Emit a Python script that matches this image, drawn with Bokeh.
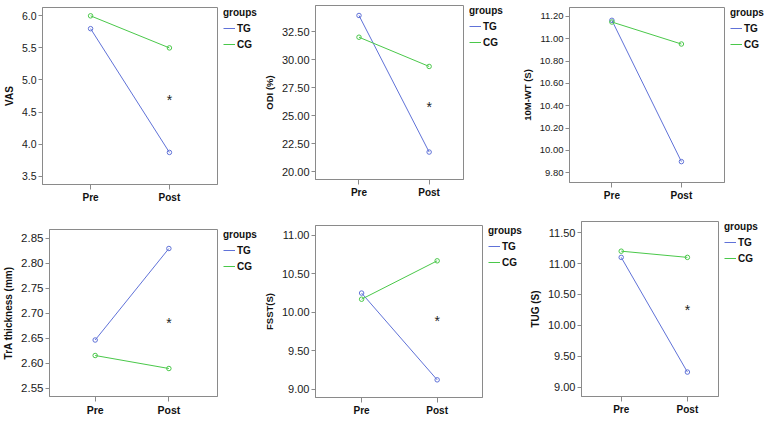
from bokeh.plotting import figure
from bokeh.models import Range1d, FixedTicker, Legend, LegendItem, NumeralTickFormatter
from bokeh.layouts import row, column
from bokeh.embed import file_html
from bokeh.resources import INLINE
from bokeh.core.properties import value

# ---- data ----
times = ["Pre", "Post"]
groups = ["TG", "CG"]

vas_tg = [5.80, 3.87]
vas_cg = [6.00, 5.50]
odi_tg = [33.97, 21.78]
odi_cg = [32.03, 29.42]
wt_tg = [11.165, 9.90]
wt_cg = [11.15, 10.953]
tra_tg = [2.646, 2.829]
tra_cg = [2.615, 2.589]
fsst_tg = [10.25, 9.12]
fsst_cg = [10.17, 10.67]
tug_tg = [11.10, 9.245]
tug_cg = [11.20, 11.10]

y_labels = ["VAS", "ODI (%)", "10M-WT (S)", "TrA thickness (mm)", "FSST(S)", "TUG (S)"]
star_y = [4.74, 26.1, None, 2.686, 9.92, 10.29]

vas_ticks = [3.5, 4.0, 4.5, 5.0, 5.5, 6.0]
odi_ticks = [20.0, 22.5, 25.0, 27.5, 30.0, 32.5]
wt_ticks = [9.8, 10.0, 10.2, 10.4, 10.6, 10.8, 11.0, 11.2]
tra_ticks = [2.55, 2.60, 2.65, 2.70, 2.75, 2.80, 2.85]
fsst_ticks = [9.0, 9.5, 10.0, 10.5, 11.0]
tug_ticks = [9.0, 9.5, 10.0, 10.5, 11.0, 11.5]

TG_COLOR = "#6072d8"
CG_COLOR = "#4ac84a"
FRAME = "#8a8a8a"
FONT = "Liberation Sans"

panels = [
    dict(tg=vas_tg, cg=vas_cg, ticks=vas_ticks, fmt="0.0", w=260, h=212, l=41, r=43, t=3, b=28,
         xr=(-0.61, 1.61), yr=(3.37, 6.13), tick_fs="10.5px", lab_fs="10px", x_fs="10px"),
    dict(tg=odi_tg, cg=odi_cg, ticks=odi_ticks, fmt="0.00", w=250, h=212, l=46, r=47, t=1, b=33,
         xr=(-0.62, 1.49), yr=(19.33, 34.86), tick_fs="11px", lab_fs="9.5px", x_fs="10px"),
    dict(tg=wt_tg, cg=wt_cg, ticks=wt_ticks, fmt="0.00", w=258, h=212, l=59, r=44, t=3, b=30,
         xr=(-0.61, 1.62), yr=(9.713, 11.28), tick_fs="9.5px", lab_fs="9.5px", x_fs="10px"),
    dict(tg=tra_tg, cg=tra_cg, ticks=tra_ticks, fmt="0.00", w=260, h=206, l=41, r=43, t=13, b=18,
         xr=(-0.62, 1.66), yr=(2.533, 2.867), tick_fs="11.5px", lab_fs="10px", x_fs="10.5px"),
    dict(tg=fsst_tg, cg=fsst_cg, ticks=fsst_ticks, fmt="0.00", w=266, h=206, l=48, r=44, t=10, b=17,
         xr=(-0.61, 1.60), yr=(8.89, 11.13), tick_fs="11px", lab_fs="9.5px", x_fs="10px"),
    dict(tg=tug_tg, cg=tug_cg, ticks=tug_ticks, fmt="0.00", w=242, h=206, l=46, r=50, t=6, b=22,
         xr=(-0.60, 1.47), yr=(8.85, 11.68), tick_fs="11px", lab_fs="10px", x_fs="10px"),
]

xs = list(range(len(times)))
GAP = 2  # border right of the frame inside the plot figure


def make_legend_fig(width, height, top, tg, cg):
    # a narrow figure that only carries the legend; its ranges keep the lines out of view
    lf = figure(width=width, height=height, output_backend="svg", toolbar_location=None,
                x_axis_type=None, y_axis_type=None,
                x_range=Range1d(0, 1), y_range=Range1d(-2, -1),
                min_border_left=4, min_border_right=0, min_border_top=top, min_border_bottom=0)
    lf.grid.visible = False
    lf.outline_line_color = None
    lf.background_fill_color = "white"
    lf.border_fill_color = "white"
    r_tg = lf.line(xs, tg, line_color=TG_COLOR, line_width=1)
    r_cg = lf.line(xs, cg, line_color=CG_COLOR, line_width=1)
    legend = Legend(items=[LegendItem(label=groups[0], renderers=[r_tg]),
                           LegendItem(label=groups[1], renderers=[r_cg])],
                    title="groups", location="top_left")
    legend.margin = 0
    legend.padding = 0
    legend.border_line_color = None
    legend.background_fill_alpha = 0
    legend.title_text_font = FONT
    legend.title_text_font_style = "bold"
    legend.title_text_font_size = "10px"
    legend.title_text_color = "#111111"
    legend.title_standoff = 3
    legend.label_text_font = FONT
    legend.label_text_font_style = "bold"
    legend.label_text_font_size = "10px"
    legend.label_text_color = "#111111"
    legend.label_height = 14
    legend.glyph_height = 14
    legend.glyph_width = 12
    legend.label_standoff = 2
    legend.spacing = 2
    lf.add_layout(legend)
    return lf


cells = []
for i, cfg in enumerate(panels):
    pw = cfg["w"] - cfg["r"] + GAP
    p = figure(width=pw, height=cfg["h"], output_backend="svg", toolbar_location=None,
               x_range=Range1d(*cfg["xr"]), y_range=Range1d(*cfg["yr"]),
               min_border_left=cfg["l"], min_border_right=GAP,
               min_border_top=cfg["t"], min_border_bottom=cfg["b"])
    p.grid.visible = False
    p.outline_line_color = FRAME
    p.outline_line_width = 1
    p.background_fill_color = "white"
    p.border_fill_color = "white"

    for ax in (p.xaxis[0], p.yaxis[0]):
        ax.axis_line_color = FRAME
        ax.major_tick_line_color = FRAME
        ax.minor_tick_line_color = None
        ax.major_tick_out = 4
        ax.major_tick_in = 0
        ax.major_label_text_font = FONT
        ax.major_label_text_color = "#1a1a1a"
        ax.axis_label_text_font = FONT
        ax.axis_label_text_font_style = "bold"
        ax.axis_label_text_color = "#111111"
        ax.major_label_standoff = 2

    p.xaxis.ticker = FixedTicker(ticks=xs)
    p.xaxis.major_label_overrides = {k: t for k, t in zip(xs, times)}
    p.xaxis.major_label_text_font_style = "bold"
    p.xaxis.major_label_text_font_size = cfg["x_fs"]
    p.xaxis.major_label_text_color = "#111111"
    p.xaxis.major_tick_out = 5

    p.yaxis.ticker = FixedTicker(ticks=cfg["ticks"])
    p.yaxis.formatter = NumeralTickFormatter(format=cfg["fmt"])
    p.yaxis.major_label_text_font_size = cfg["tick_fs"]
    p.yaxis.axis_label = y_labels[i]
    p.yaxis.axis_label_text_font_size = cfg["lab_fs"]
    p.yaxis.axis_label_standoff = 4

    p.line(xs, cfg["tg"], line_color=TG_COLOR, line_width=1)
    p.line(xs, cfg["cg"], line_color=CG_COLOR, line_width=1)
    p.scatter(xs, cfg["tg"], marker="circle", size=4.5, line_color=TG_COLOR, fill_alpha=0, line_width=1)
    p.scatter(xs, cfg["cg"], marker="circle", size=4.5, line_color=CG_COLOR, fill_alpha=0, line_width=1)

    if star_y[i] is not None:
        p.text(x=[xs[1]], y=[star_y[i]], text=["*"], text_font=value(FONT),
               text_font_size="14px", text_align="center", text_baseline="middle",
               y_offset=3, text_color="#222222")

    top = cfg["t"] + 3
    if top % 2 == 0:
        top += 1  # keep the 1px legend line samples on whole pixels
    lf = make_legend_fig(cfg["r"] - GAP, cfg["h"], top, cfg["tg"], cfg["cg"])
    cells.append(row(p, lf, spacing=0))

layout = column(row(*cells[:3], spacing=0), row(*cells[3:], spacing=0), spacing=0)
open("out.html", "w").write(file_html(layout, INLINE))
